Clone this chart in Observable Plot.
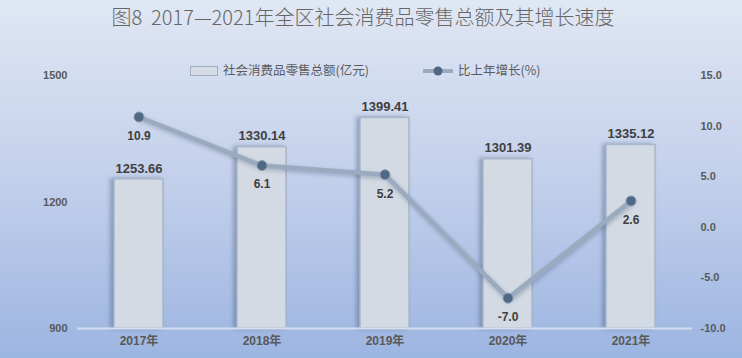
<!DOCTYPE html>
<html><head><meta charset="utf-8">
<script src="https://cdn.jsdelivr.net/npm/d3@7"></script>
<script src="https://cdn.jsdelivr.net/npm/@observablehq/plot@0.6"></script>
<style>
body{margin:0}
#wrap{position:relative;width:742px;height:358px;background:linear-gradient(to bottom,#e0e7f4 0%,#c3d0eb 50%,#9cb5e1 100%);overflow:hidden;font-family:"Noto Sans CJK SC",sans-serif}
#title{position:absolute;left:0;top:2px;width:726px;text-align:center;font-size:20px;font-weight:300;color:#666666;white-space:pre}
.leg{position:absolute;top:61px;font-size:12.5px;font-weight:400;color:#5c5c5c;line-height:18px;white-space:nowrap}
#chart{position:absolute;left:0;top:0}
.bars rect{filter:drop-shadow(-3px 0 2px rgba(70,90,125,0.45))}
.gline path{filter:drop-shadow(1px 2px 2px rgba(60,80,110,0.35))}
svg text{font-weight:bold}
</style></head>
<body>
<div id="wrap">
  <div id="title">图8  2017—2021年全区社会消费品零售总额及其增长速度</div>
  <div class="leg" style="left:190px"><span style="display:inline-block;width:26px;height:8px;background:#d5dce6;border:1px solid #a0b0c4;vertical-align:middle;margin-right:5px;position:relative;top:-1px"></span>社会消费品零售总额(亿元)</div>
  <div class="leg" style="left:423px"><svg width="31" height="12" style="vertical-align:middle;margin-right:4px;position:relative;top:-1px"><line x1="0" y1="6" x2="30" y2="6" stroke="#9aabc0" stroke-width="4"/><circle cx="15" cy="6" r="4.5" fill="#4e6886"/></svg>比上年增长(%)</div>
  <div id="chart"></div>
</div>
<script>
const years = ["2017年","2018年","2019年","2020年","2021年"];
const sales = [1253.66,1330.14,1399.41,1301.39,1335.12];
const growth = [10.9,6.1,5.2,-7.0,2.6];
const leftTicks = [900,1200,1500];
const rightTicks = [-10,-5,0,5,10,15];

const toLeft = v => 900 + (v + 10) * 24;
const fromLeft = d => (d - 900) / 24 - 10;
const data = years.map((y,i)=>({year:y, sales:sales[i], growth:growth[i], g:toLeft(growth[i])}));

const font = "Liberation Sans, Arial, 'Noto Sans CJK SC', sans-serif";
const chart = Plot.plot({
  width:742, height:358,
  marginLeft:77, marginRight:50, marginTop:75, marginBottom:30,
  style:{background:"transparent", fontFamily:font, overflow:"visible"},
  x:{domain:years, paddingInner:0.6, paddingOuter:0.3, label:null},
  y:{domain:[900,1500], label:null},
  marks:[
    Plot.barY(data,{x:"year", y1:900, y2:"sales", fill:"#d3dae3", stroke:"#a8b7ca", strokeWidth:1.5, className:"bars"}),
    Plot.ruleY([900],{stroke:"#d6deec", strokeWidth:2}),
    Plot.axisY(leftTicks,{anchor:"left", tickSize:0, tickPadding:10, fontSize:11, color:"#595959", label:null, tickFormat:d=>String(d)}),
    Plot.axisY(rightTicks.map(toLeft),{anchor:"right", tickSize:0, tickPadding:8, fontSize:11, color:"#595959", label:null, tickFormat:d=>fromLeft(d).toFixed(1)}),
    Plot.axisX({tickSize:0, tickPadding:8, fontSize:12, color:"#595959", label:null}),
    Plot.line(data,{x:"year", y:"g", stroke:"#9aabc0", strokeWidth:4.5, className:"gline"}),
    Plot.dot(data,{x:"year", y:"g", r:5, fill:"#4e6886", stroke:"#8a9cb2", strokeWidth:1}),
    Plot.text(data,{x:"year", y:"sales", text:d=>d.sales.toFixed(2), dy:-11, fontSize:13, fill:"#404040"}),
    Plot.text(data,{x:"year", y:"g", text:d=>d.growth.toFixed(1), dy:19, fontSize:12, fill:"#404040"})
  ]
});
document.getElementById("chart").appendChild(chart);
</script>
</body></html>
